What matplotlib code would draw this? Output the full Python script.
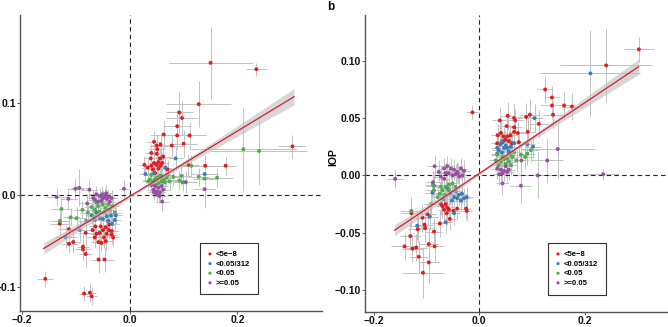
import numpy as np
import matplotlib.pyplot as plt
from matplotlib.ticker import FuncFormatter

plt.rcParams['font.family'] = ['Liberation Sans', 'DejaVu Sans']
plt.rcParams['font.weight'] = 'bold'

groups = ['<5e\u22128', '<0.05/312', '<0.05', '>=0.05']
colours = ['#E41A1C', '#377EB8', '#4DAF4A', '#984EA3']

# rows: beta_x, beta_y, se_x, se_y
a_red = [
    (-0.157, -0.091, 0.015, 0.009), (-0.085, -0.107, 0.010, 0.008),
    (-0.074, -0.106, 0.012, 0.010), (-0.071, -0.110, 0.010, 0.010),
    (-0.130, -0.031, 0.018, 0.012), (-0.113, -0.037, 0.020, 0.012),
    (-0.113, -0.053, 0.015, 0.010), (-0.105, -0.051, 0.015, 0.012),
    (-0.087, -0.056, 0.012, 0.015), (-0.087, -0.059, 0.014, 0.012),
    (-0.082, -0.064, 0.012, 0.014), (-0.082, -0.041, 0.015, 0.012),
    (-0.069, -0.038, 0.018, 0.012), (-0.065, -0.046, 0.015, 0.012),
    (-0.062, -0.042, 0.012, 0.010), (-0.058, -0.051, 0.015, 0.012),
    (-0.058, -0.070, 0.014, 0.015), (-0.047, -0.070, 0.018, 0.014),
    (-0.056, -0.041, 0.012, 0.010), (-0.054, -0.034, 0.010, 0.010),
    (-0.050, -0.038, 0.012, 0.010), (-0.048, -0.046, 0.012, 0.012),
    (-0.045, -0.035, 0.010, 0.009), (-0.045, -0.050, 0.012, 0.010),
    (-0.043, -0.042, 0.010, 0.010), (-0.039, -0.038, 0.012, 0.010),
    (-0.038, -0.032, 0.010, 0.009), (-0.034, -0.039, 0.012, 0.010),
    (-0.034, -0.043, 0.010, 0.010), (-0.031, -0.046, 0.010, 0.010),
    (-0.053, -0.052, 0.012, 0.010), (-0.064, -0.034, 0.012, 0.010),
    (0.150, 0.144, 0.078, 0.039), (0.235, 0.137, 0.020, 0.007),
    (0.302, 0.053, 0.026, 0.013), (0.128, 0.099, 0.060, 0.025),
    (0.178, 0.032, 0.020, 0.010), (0.140, 0.032, 0.025, 0.012),
    (0.092, 0.090, 0.025, 0.022), (0.097, 0.084, 0.030, 0.018),
    (0.088, 0.075, 0.025, 0.018), (0.111, 0.065, 0.030, 0.015),
    (0.088, 0.065, 0.020, 0.015), (0.063, 0.066, 0.025, 0.015),
    (0.100, 0.056, 0.025, 0.015), (0.078, 0.054, 0.020, 0.012),
    (0.045, 0.058, 0.015, 0.012), (0.050, 0.054, 0.015, 0.012),
    (0.057, 0.055, 0.015, 0.012), (0.051, 0.050, 0.015, 0.010),
    (0.040, 0.046, 0.012, 0.010), (0.050, 0.045, 0.012, 0.010),
    (0.039, 0.040, 0.012, 0.010), (0.056, 0.040, 0.012, 0.010),
    (0.062, 0.042, 0.015, 0.010), (0.045, 0.035, 0.012, 0.010),
    (0.053, 0.036, 0.012, 0.010), (0.060, 0.035, 0.012, 0.010),
    (0.027, 0.033, 0.010, 0.010), (0.040, 0.032, 0.012, 0.009),
    (0.050, 0.033, 0.012, 0.009), (0.057, 0.032, 0.012, 0.009),
    (0.033, 0.030, 0.010, 0.009), (0.043, 0.028, 0.012, 0.009),
    (0.053, 0.029, 0.012, 0.009), (0.070, 0.028, 0.015, 0.010),
    (0.047, 0.024, 0.012, 0.009), (0.109, 0.033, 0.020, 0.012),
]
a_blue = [
    (0.045, 0.024, 0.012, 0.009), (0.066, 0.030, 0.012, 0.010),
    (0.085, 0.040, 0.015, 0.012), (0.139, 0.023, 0.025, 0.012),
    (0.029, 0.023, 0.012, 0.009), (0.058, 0.021, 0.012, 0.008),
    (-0.028, -0.027, 0.012, 0.010), (-0.035, -0.022, 0.012, 0.009),
    (-0.043, -0.023, 0.012, 0.009), (-0.056, -0.025, 0.012, 0.009),
    (-0.062, -0.019, 0.012, 0.009), (-0.081, -0.028, 0.015, 0.010),
    (-0.093, -0.038, 0.018, 0.012), (-0.119, -0.046, 0.020, 0.012),
    (-0.050, -0.026, 0.012, 0.009), (-0.040, -0.028, 0.012, 0.009),
    (-0.065, -0.027, 0.012, 0.009), (-0.071, -0.022, 0.012, 0.009),
    (-0.026, -0.022, 0.012, 0.009), (-0.047, -0.018, 0.012, 0.009),
    (-0.033, -0.031, 0.012, 0.009),
]
a_green = [
    (0.211, 0.050, 0.100, 0.045), (0.240, 0.048, 0.090, 0.037),
    (0.114, 0.032, 0.020, 0.012), (0.128, 0.020, 0.020, 0.010),
    (0.162, 0.019, 0.030, 0.010), (0.139, 0.018, 0.022, 0.010),
    (0.096, 0.021, 0.015, 0.010), (0.098, 0.014, 0.015, 0.010),
    (0.092, 0.016, 0.015, 0.010), (0.081, 0.020, 0.015, 0.010),
    (0.074, 0.015, 0.015, 0.009), (0.037, 0.017, 0.012, 0.008),
    (0.043, 0.015, 0.012, 0.008), (0.050, 0.019, 0.012, 0.008),
    (0.056, 0.021, 0.012, 0.008), (0.062, 0.017, 0.012, 0.008),
    (0.068, 0.019, 0.012, 0.008), (0.040, 0.022, 0.012, 0.008),
    (0.034, 0.015, 0.012, 0.008), (0.053, 0.013, 0.012, 0.008),
    (0.059, 0.015, 0.012, 0.008), (0.065, 0.014, 0.012, 0.008),
    (0.047, 0.011, 0.012, 0.008), (0.071, 0.022, 0.012, 0.008),
    (0.047, 0.017, 0.012, 0.008),
    (-0.127, -0.015, 0.020, 0.012), (-0.130, -0.028, 0.018, 0.012),
    (-0.099, -0.025, 0.018, 0.012), (-0.088, -0.016, 0.015, 0.010),
    (-0.078, -0.019, 0.015, 0.010), (-0.071, -0.013, 0.012, 0.010),
    (-0.065, -0.016, 0.012, 0.009), (-0.059, -0.012, 0.012, 0.009),
    (-0.056, -0.018, 0.012, 0.009), (-0.050, -0.010, 0.012, 0.009),
    (-0.045, -0.014, 0.012, 0.009), (-0.040, -0.010, 0.012, 0.009),
    (-0.062, -0.008, 0.012, 0.009), (-0.053, -0.006, 0.012, 0.009),
    (-0.047, -0.019, 0.012, 0.009), (-0.037, -0.016, 0.012, 0.009),
    (-0.032, -0.012, 0.012, 0.009), (-0.028, -0.019, 0.012, 0.009),
    (-0.068, -0.023, 0.012, 0.009), (-0.110, -0.024, 0.015, 0.010),
]
a_purple = [
    (0.139, 0.0065, 0.020, 0.020), (0.104, 0.014, 0.020, 0.012),
    (0.044, 0.006, 0.012, 0.008), (0.050, 0.004, 0.012, 0.008),
    (0.056, 0.003, 0.012, 0.008), (0.062, 0.006, 0.012, 0.008),
    (0.047, 0.010, 0.012, 0.008), (0.053, 0.008, 0.012, 0.008),
    (0.040, 0.011, 0.012, 0.008), (0.059, 0.010, 0.012, 0.008),
    (0.050, 0.001, 0.012, 0.008), (0.055, -0.001, 0.012, 0.008),
    (0.045, 0.003, 0.012, 0.008), (0.060, -0.007, 0.012, 0.010),
    (-0.101, 0.007, 0.015, 0.012), (-0.094, 0.008, 0.015, 0.020),
    (-0.075, 0.006, 0.015, 0.010), (-0.136, -0.002, 0.020, 0.010),
    (-0.114, -0.004, 0.015, 0.012), (-0.011, 0.007, 0.010, 0.010),
    (-0.062, 0.001, 0.012, 0.009), (-0.056, -0.001, 0.012, 0.009),
    (-0.050, -0.003, 0.012, 0.009), (-0.043, -0.004, 0.012, 0.009),
    (-0.065, -0.005, 0.012, 0.009), (-0.059, -0.007, 0.012, 0.009),
    (-0.053, -0.006, 0.012, 0.009), (-0.047, -0.001, 0.012, 0.009),
    (-0.040, -0.002, 0.012, 0.009), (-0.037, -0.007, 0.012, 0.009),
    (-0.051, 0.001, 0.012, 0.009), (-0.068, -0.003, 0.012, 0.009),
    (-0.079, -0.009, 0.015, 0.010), (-0.044, 0.002, 0.012, 0.009),
    (-0.034, -0.003, 0.012, 0.009),
]

b_red = [
    (0.303, 0.110, 0.028, 0.011), (0.241, 0.096, 0.087, 0.032),
    (-0.013, 0.055, 0.012, 0.006), (0.125, 0.075, 0.015, 0.012),
    (0.138, 0.068, 0.015, 0.010), (0.138, 0.061, 0.020, 0.012),
    (0.161, 0.061, 0.020, 0.012), (0.176, 0.060, 0.020, 0.012),
    (0.140, 0.053, 0.020, 0.012), (0.113, 0.045, 0.018, 0.012),
    (0.096, 0.053, 0.020, 0.014), (0.089, 0.051, 0.018, 0.012),
    (0.039, 0.048, 0.015, 0.012), (0.054, 0.052, 0.015, 0.012),
    (0.066, 0.050, 0.015, 0.012), (0.068, 0.048, 0.015, 0.010),
    (0.052, 0.043, 0.015, 0.010), (0.066, 0.042, 0.015, 0.010),
    (0.041, 0.037, 0.012, 0.010), (0.046, 0.034, 0.012, 0.010),
    (0.053, 0.034, 0.012, 0.010), (0.059, 0.035, 0.012, 0.010),
    (0.035, 0.035, 0.012, 0.010), (0.073, 0.037, 0.015, 0.010),
    (0.092, 0.038, 0.015, 0.012), (0.066, 0.038, 0.012, 0.010),
    (0.049, 0.031, 0.012, 0.009), (0.056, 0.030, 0.012, 0.009),
    (0.044, 0.029, 0.012, 0.009), (0.075, 0.029, 0.015, 0.010),
    (0.062, 0.028, 0.012, 0.009), (0.034, 0.028, 0.012, 0.009),
    (-0.142, -0.062, 0.025, 0.012), (-0.131, -0.053, 0.020, 0.012),
    (-0.129, -0.033, 0.020, 0.012), (-0.127, -0.064, 0.020, 0.012),
    (-0.120, -0.063, 0.020, 0.012), (-0.115, -0.071, 0.018, 0.014),
    (-0.117, -0.047, 0.018, 0.012), (-0.108, -0.037, 0.015, 0.012),
    (-0.104, -0.043, 0.015, 0.012), (-0.103, -0.046, 0.015, 0.012),
    (-0.098, -0.034, 0.015, 0.010), (-0.096, -0.060, 0.018, 0.014),
    (-0.096, -0.076, 0.020, 0.018), (-0.107, -0.085, 0.040, 0.022),
    (-0.086, -0.049, 0.015, 0.012), (-0.085, -0.062, 0.018, 0.014),
    (-0.075, -0.042, 0.015, 0.012), (-0.073, -0.025, 0.012, 0.010),
    (-0.070, -0.027, 0.012, 0.010), (-0.067, -0.030, 0.012, 0.010),
    (-0.061, -0.028, 0.012, 0.010), (-0.062, -0.033, 0.012, 0.010),
    (-0.056, -0.038, 0.012, 0.010), (-0.049, -0.031, 0.012, 0.010),
    (-0.042, -0.029, 0.012, 0.010), (-0.024, -0.031, 0.010, 0.009),
    (-0.025, -0.029, 0.010, 0.009), (-0.064, -0.025, 0.012, 0.009),
    (-0.058, -0.030, 0.012, 0.009),
]
b_blue = [
    (0.211, 0.089, 0.095, 0.038), (0.105, 0.050, 0.015, 0.012),
    (0.034, 0.024, 0.012, 0.009), (0.040, 0.027, 0.012, 0.009),
    (0.047, 0.024, 0.012, 0.009), (0.037, 0.022, 0.012, 0.009),
    (0.044, 0.030, 0.012, 0.009), (0.050, 0.026, 0.012, 0.009),
    (0.053, 0.024, 0.012, 0.009), (0.056, 0.021, 0.012, 0.009),
    (0.034, 0.019, 0.012, 0.009), (0.060, 0.025, 0.012, 0.009),
    (0.066, 0.028, 0.012, 0.009), (0.091, 0.027, 0.015, 0.010),
    (0.102, 0.025, 0.015, 0.010), (0.043, 0.020, 0.012, 0.009),
    (-0.061, -0.011, 0.012, 0.009), (-0.055, -0.016, 0.012, 0.009),
    (-0.048, -0.019, 0.012, 0.009), (-0.045, -0.014, 0.012, 0.009),
    (-0.042, -0.020, 0.012, 0.009), (-0.039, -0.017, 0.012, 0.009),
    (-0.035, -0.022, 0.012, 0.009), (-0.029, -0.020, 0.012, 0.009),
    (-0.024, -0.019, 0.012, 0.009), (-0.033, -0.016, 0.012, 0.009),
    (-0.086, -0.009, 0.015, 0.010), (-0.089, -0.015, 0.015, 0.010),
    (-0.094, -0.036, 0.015, 0.012), (-0.118, -0.044, 0.018, 0.012),
    (-0.064, -0.041, 0.012, 0.010), (-0.048, -0.033, 0.012, 0.010),
    (-0.068, -0.021, 0.012, 0.009), (-0.052, -0.022, 0.012, 0.009),
]
b_green = [
    (0.091, 0.019, 0.015, 0.010), (0.087, 0.016, 0.015, 0.010),
    (0.098, 0.022, 0.015, 0.010), (0.079, 0.018, 0.015, 0.010),
    (0.071, 0.013, 0.012, 0.009), (0.063, 0.016, 0.012, 0.009),
    (0.053, 0.015, 0.012, 0.009), (0.047, 0.014, 0.012, 0.009),
    (0.041, 0.012, 0.012, 0.009), (0.034, 0.018, 0.012, 0.009),
    (0.044, 0.016, 0.012, 0.009), (0.050, 0.010, 0.012, 0.009),
    (0.056, 0.012, 0.012, 0.009), (0.060, 0.009, 0.012, 0.009),
    (0.031, 0.013, 0.012, 0.009), (0.037, 0.009, 0.012, 0.009),
    (0.066, 0.020, 0.012, 0.009), (0.059, 0.018, 0.012, 0.009),
    (-0.129, -0.031, 0.020, 0.012), (-0.088, -0.008, 0.015, 0.010),
    (-0.086, -0.013, 0.015, 0.010), (-0.075, -0.016, 0.012, 0.010),
    (-0.070, -0.013, 0.012, 0.009), (-0.064, -0.010, 0.012, 0.009),
    (-0.058, -0.008, 0.012, 0.009), (-0.058, -0.013, 0.012, 0.009),
    (-0.051, -0.007, 0.012, 0.009), (-0.045, -0.010, 0.012, 0.009),
    (-0.073, -0.010, 0.012, 0.009), (-0.079, -0.019, 0.012, 0.009),
    (-0.091, -0.025, 0.015, 0.010), (-0.066, -0.017, 0.012, 0.009),
]
b_purple = [
    (0.235, 0.001, 0.030, 0.005), (0.149, 0.023, 0.070, 0.025),
    (0.129, 0.013, 0.030, 0.020), (0.111, 0.000, 0.040, 0.020),
    (0.079, -0.009, 0.020, 0.015), (0.080, 0.013, 0.015, 0.012),
    (-0.160, -0.003, 0.015, 0.008), (-0.085, 0.008, 0.015, 0.010),
    (-0.077, 0.003, 0.012, 0.010), (-0.067, 0.006, 0.012, 0.009),
    (-0.061, 0.008, 0.012, 0.009), (-0.054, 0.006, 0.012, 0.009),
    (-0.048, 0.005, 0.012, 0.009), (-0.042, 0.003, 0.012, 0.009),
    (-0.035, 0.006, 0.012, 0.009), (-0.029, 0.004, 0.012, 0.009),
    (-0.064, 0.002, 0.012, 0.009), (-0.058, 0.002, 0.012, 0.009),
    (-0.051, 0.000, 0.012, 0.009), (-0.045, 0.001, 0.012, 0.009),
    (-0.038, -0.001, 0.012, 0.009), (-0.032, 0.000, 0.012, 0.009),
    (-0.041, 0.002, 0.012, 0.009), (-0.073, -0.001, 0.012, 0.009),
    (-0.067, -0.003, 0.012, 0.009), (-0.088, -0.006, 0.015, 0.010),
    (0.034, 0.006, 0.012, 0.009), (0.041, 0.005, 0.012, 0.009),
    (0.047, 0.004, 0.012, 0.009), (0.053, 0.003, 0.012, 0.009),
    (0.044, 0.002, 0.012, 0.009), (0.050, 0.008, 0.012, 0.009),
    (0.038, 0.001, 0.012, 0.009), (0.056, 0.005, 0.012, 0.009),
    (0.044, -0.007, 0.012, 0.010),
]

# fitted line: slope, intercept, x-span, and CI band (se0, se1, centre)
a_fit = (0.355, -0.0012)
a_span = (-0.160, 0.305)
a_band = (0.0015, 0.032, 0.03)
b_fit = (0.308, 0.0017)
b_span = (-0.161, 0.3025)
b_band = (0.0012, 0.024, 0.03)


def fmt(dec):
    return FuncFormatter(lambda v, p: f'{v:.{dec}f}'.replace('-', '\u2212'))


def panel(ax, sets, fit, span, band, xlim, ylim, yticks, ydec, leg_xy):
    for rows in sets:
        d = np.array(rows)
        ax.errorbar(d[:, 0], d[:, 1], xerr=d[:, 2], yerr=d[:, 3], fmt='none',
                    ecolor='#c2c2c2', elinewidth=0.7, capsize=0, zorder=1)
    for rows, col, lab in zip(sets, colours, groups):
        d = np.array(rows)
        ax.scatter(d[:, 0], d[:, 1], s=8, color=col, edgecolors='none',
                   zorder=3, label=lab)
    xs = np.linspace(span[0], span[1], 100)
    ys = fit[0] * xs + fit[1]
    hw = np.sqrt(band[0] ** 2 + (band[1] * (xs - band[2])) ** 2)
    ax.fill_between(xs, ys - hw, ys + hw, color='#bdbdbd', alpha=0.6,
                    lw=0, zorder=4)
    ax.plot(xs, ys, color='#cf2030', lw=0.9, zorder=5)
    ax.axhline(0, color='#222222', lw=0.8, ls=(0, (4, 3)), zorder=2)
    ax.axvline(0, color='#222222', lw=0.8, ls=(0, (4, 3)), zorder=2)

    ax.set_xlim(*xlim)
    ax.set_ylim(*ylim)
    ax.set_xticks([-0.2, 0.0, 0.2])
    ax.set_yticks(yticks)
    ax.xaxis.set_major_formatter(fmt(1))
    ax.yaxis.set_major_formatter(fmt(ydec))
    for s in ['top', 'right']:
        ax.spines[s].set_visible(False)
    for s in ['left', 'bottom']:
        ax.spines[s].set_color('#555555')
        ax.spines[s].set_linewidth(1.0)
    ax.tick_params(length=2.0, width=0.7, color='#555555', labelsize=7.5,
                   pad=0.8, labelcolor='#111111')

    leg = ax.legend(loc='upper left', bbox_to_anchor=leg_xy, borderaxespad=0,
                    fontsize=5.5, borderpad=1.0, handlelength=0.6,
                    handletextpad=0.5, labelspacing=0.3, markerscale=0.8,
                    fancybox=False, framealpha=1)
    leg.get_frame().set_edgecolor('#333333')
    leg.get_frame().set_linewidth(0.8)


fig = plt.figure(figsize=(6.68, 3.27), dpi=100)
ax1 = fig.add_axes([20 / 668, 16 / 327, 302 / 668, 296 / 327])
ax2 = fig.add_axes([364.7 / 668, 15.3 / 327, 302.6 / 668, 296.7 / 327])

panel(ax1, [a_red, a_blue, a_green, a_purple], a_fit, a_span, a_band,
      (-0.204, 0.357), (-0.126, 0.196), [-0.1, 0.0, 0.1], 1, (0.596, 0.23))
panel(ax2, [b_red, b_blue, b_green, b_purple], b_fit, b_span, b_band,
      (-0.2177, 0.357), (-0.119, 0.14), [-0.10, -0.05, 0.0, 0.05, 0.10], 2,
      (0.606, 0.2315))

ax2.set_ylabel('IOP', fontsize=7.5, fontweight='bold')
ax2.yaxis.set_label_coords(-0.088, 0.521)
fig.text(331 / 668, 1 - 7 / 327, 'b', fontsize=8.5, fontweight='bold',
         ha='center', va='center')

fig.savefig('out.png', dpi=100)
